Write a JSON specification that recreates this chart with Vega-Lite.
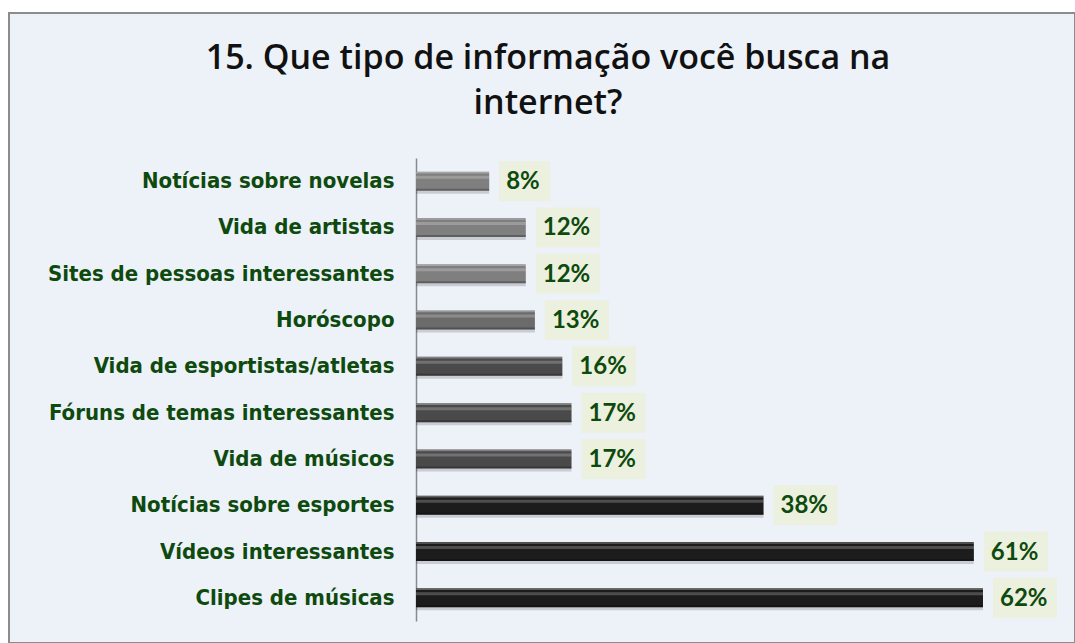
{
  "$schema": "https://vega.github.io/schema/vega-lite/v6.json",
  "width": 1066,
  "height": 630,
  "autosize": {"type": "none"},
  "padding": {"left": 9, "top": 13, "right": 0, "bottom": 0},
  "background": "#ffffff",
  "config": {"view": {"fill": "#EDF1F8", "stroke": "#8c8c8c", "strokeWidth": 2}},
  "title": {
    "text": ["15. Que tipo de informação você busca na", "internet?"],
    "font": "Open Sans",
    "fontSize": 34,
    "fontWeight": 600,
    "color": "#111111",
    "anchor": "middle",
    "frame": "group",
    "baseline": "alphabetic",
    "offset": -135,
    "lineHeight": 45,
    "dx": 6
  },
  "data": {
    "values": [
      {"item": "Notícias sobre novelas", "value": 0.08},
      {"item": "Vida de artistas", "value": 0.12},
      {"item": "Sites de pessoas interessantes", "value": 0.12},
      {"item": "Horóscopo", "value": 0.13},
      {"item": "Vida de esportistas/atletas", "value": 0.16},
      {"item": "Fóruns de temas interessantes", "value": 0.17},
      {"item": "Vida de músicos", "value": 0.17},
      {"item": "Notícias sobre esportes", "value": 0.38},
      {"item": "Vídeos interessantes", "value": 0.61},
      {"item": "Clipes de músicas", "value": 0.62}
    ]
  },
  "encoding": {
    "y": {
      "field": "item",
      "type": "nominal",
      "sort": null,
      "scale": {"range": [145, 608], "paddingInner": 0, "paddingOuter": 0},
      "axis": {
        "title": null,
        "offset": -407,
        "domainColor": "#8a8a8a",
        "domainWidth": 1.5,
        "ticks": false,
        "grid": false,
        "labelPadding": 22,
        "labelFont": "'DejaVu Sans Condensed', Roboto, sans-serif",
        "labelFontWeight": "bold",
        "labelFontSize": 22,
        "labelColor": "#0E4A0E",
        "labelLimit": 0
      }
    }
  },
  "layer": [
    {
      "mark": {"type": "bar", "size": 19, "yOffset": 3, "color": "#000000", "opacity": 0.15},
      "encoding": {"x": {"field": "value", "type": "quantitative", "scale": {"domain": [0, 0.7], "range": [407, 1047.15]}, "axis": null}}
    },
    {
      "mark": {"type": "bar", "size": 19},
      "encoding": {
        "x": {"field": "value", "type": "quantitative"},
        "color": {
          "field": "value",
          "type": "quantitative",
          "scale": {"type": "threshold", "domain": [0.125, 0.145, 0.3], "range": ["#7f7f7f", "#6b6b6b", "#4a4a4a", "#1c1c1c"]},
          "legend": null
        }
      }
    },
    {
      "mark": {"type": "bar", "size": 3, "yOffset": -4, "color": "#ffffff", "opacity": 0.22},
      "encoding": {"x": {"field": "value", "type": "quantitative"}}
    },
    {
      "mark": {"type": "bar", "size": 1.5, "yOffset": -8.5, "color": "#ffffff", "opacity": 0.3},
      "encoding": {"x": {"field": "value", "type": "quantitative"}}
    },
    {
      "mark": {"type": "bar", "size": 2, "yOffset": 8.5, "color": "#000000", "opacity": 0.25},
      "encoding": {"x": {"field": "value", "type": "quantitative"}}
    },
    {
      "transform": [{"filter": "datum.value < 0.1"}],
      "mark": {"type": "bar", "size": 40, "xOffset": 10, "x2Offset": 61, "color": "#EBF1DE"},
      "encoding": {"x": {"field": "value", "type": "quantitative"}, "x2": {"field": "value"}}
    },
    {
      "transform": [{"filter": "datum.value >= 0.1"}],
      "mark": {"type": "bar", "size": 40, "xOffset": 10, "x2Offset": 74, "color": "#EBF1DE"},
      "encoding": {"x": {"field": "value", "type": "quantitative"}, "x2": {"field": "value"}}
    },
    {
      "mark": {"type": "text", "align": "left", "baseline": "middle", "dx": 17, "dy": 1, "font": "Lato", "fontSize": 24, "fontWeight": "bold", "color": "#0E4A0E"},
      "encoding": {
        "x": {"field": "value", "type": "quantitative"},
        "text": {"field": "value", "type": "quantitative", "format": ".0%"}
      }
    }
  ]
}
